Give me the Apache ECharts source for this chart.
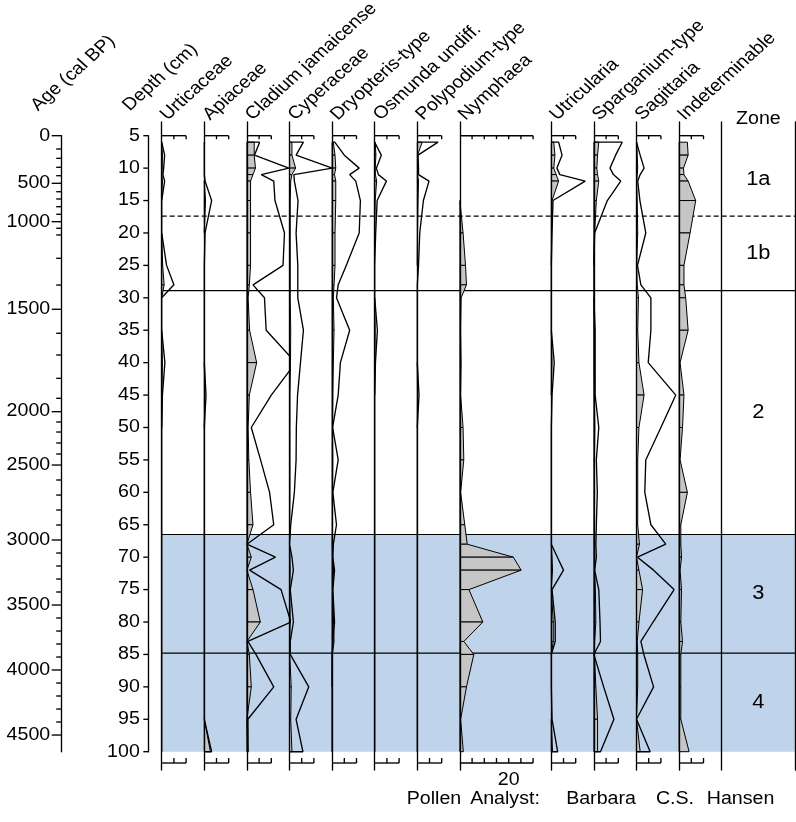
<!DOCTYPE html>
<html><head><meta charset="utf-8">
<script src="https://cdn.jsdelivr.net/npm/echarts@6/dist/echarts.min.js"></script>
<style>html,body{margin:0;padding:0;background:#fff}#c{width:796px;height:822px}</style>
</head><body><div id="c"></div>
<script>
// ---------- DATA ----------
const depths = [6,8,10,11,12,15,20,25,28,30,35,40,45,50,55,60,65,68,70,72,75,80,83,85,90,95,100];
const taxa = ['Urticaceae','Apiaceae','Cladium jamaicense','Cyperaceae','Dryopteris-type','Osmunda undiff.','Polypodium-type','Nymphaea','Utricularia','Sparganium-type','Sagittaria','Indeterminable'];
const scaleMax = [10,10,10,10,10,10,10,30,10,10,10,10];

const urticaceae  = [0,0.3,0.2,0.1,0.3,0,0,0.4,1.0,0,0,0.3,0.1,0,0,0,0,0,0,0,0,0,0,0,0,0,0];
const urticaceaeX = [0,1.2,0.8,0.5,1.2,0,0,2.0,5.0,0,0,1.3,0.3,0,0,0,0,0,0,0,0,0,0,0,0,0,0];
const apiaceae    = [0,0,0,0,0,0.5,0,0,0,0,0,0,0.2,0,0,0,0,0,0,0,0,0,0,0,0,0,2.5];
const apiaceaeX   = [0,0,0,0,0.3,3.0,0.3,0,0,0,0,0,0.7,0,0,0,0,0,0,0,0,0,0,0,0,0,3.0];
const cladium     = [3.0,3.0,3.5,2.5,1.5,1.5,1.5,1.5,1.0,0.5,1.1,4.0,1.0,0.5,0.8,1.5,2.5,0,1.8,0,2.5,5.5,0,1.0,1.8,0,0.3];
const cladiumX    = [5.2,3.1,17.2,5.9,11,11.5,15.4,14.8,2.5,7.2,7.9,20,10,1.8,5.6,9.3,11,0,11.7,1.1,14,18,0.4,3.7,11,0.4,0.5];
const cyperaceae  = [1.0,1.0,2.5,1.0,0.5,0.3,0.3,0.3,0.3,0.3,0.5,0.4,0.2,0.2,0.2,0.2,0.1,0,0.2,0.3,0.1,0.3,0.1,0.1,0.7,0.5,1.0];
const cyperaceaeX = [5.7,2.7,17.5,1.8,2.0,3.5,2.7,3.4,3.4,3.4,5.7,4.5,3.3,2.8,2.7,2.0,0.5,0,1.0,1.6,0.3,1.6,0.3,0.3,7.9,2.7,5.5];
const dryopteris  = [0.5,1.2,1.5,1.0,1.5,1.5,1.2,1.2,0.8,0.5,0.8,0.5,0.3,0.2,0.3,0.2,0.2,0.1,0.2,0.6,0.2,0.6,0.8,0.1,0,0,0];
const dryopterisX = [1.1,5.0,11.1,7.2,9.7,11.6,11.1,5.8,2.5,1.8,7.2,3.4,2.5,0.2,2.5,0.3,1.8,0.5,0.3,1.0,0.3,1.0,0.3,0,0,0,0];
const osmunda     = [0.2,0.5,0.2,0.3,0.8,0.2,0,0,0,0,0.2,0.1,0,0,0,0,0,0,0,0,0,0,0,0,0,0,0];
const osmundaX    = [0.5,2.7,0.7,1.5,4.8,1.0,0.4,0,0,0,1.1,0.3,0,0,0,0,0,0,0,0,0,0,0,0,0,0,0];
const polypodium  = [2.0,0.1,0.1,0.1,0.5,0.3,0.1,0,0,0,0,0,0.1,0,0,0,0,0,0,0,0,0,0,0,0,0,0];
const polypodiumX = [8.5,0.3,0.5,0.5,4.8,2.5,1.0,0.5,0,0,0,0,0.7,0,0,0,0,0,0,0,0,0,0,0,0,0,0];
const nymphaea    = [0,0,0,0,0,0,1.3,2.3,2.7,0.5,0.3,0.5,0.3,1.3,1.6,0.3,2.0,3.0,21.9,25.1,3.7,9.4,1.6,5.7,2.7,0.3,1.4];
const utricularia = [1.0,1.5,1.0,2.0,3.0,0.3,0.1,0,0,0,0,0.3,0,0,0,0,0,0,0.3,0.5,0,0.8,0.8,0,0,0,0.5];
const utriculariaX= [3.0,4.4,2.3,3.5,13.9,0.7,0.3,0,0,0,0,1.2,0.3,0,0,0,0,0,2.5,5.0,0.3,1.6,1.6,0,0,0.3,2.6];
const sparganium  = [2.0,1.5,1.2,1.5,2.0,1.0,0.3,0,0,0,0.1,0.1,0.2,0.4,0.2,0.3,0.2,0.2,0.3,0.3,0.6,0.8,0.3,0.2,0.8,1.5,1.5];
const sparganiumX = [11.6,8.9,6.6,8,11,5.5,0.3,0,0,0,0.5,0.5,0.5,2.0,1.0,1.4,1.0,0.8,1.0,0.3,2.0,2.5,2.7,0,4.0,8.2,2.7];
const sagittaria  = [0.1,0.3,0.5,0.3,0.1,0.3,0.5,0.1,0.3,0.8,0.5,1.0,3.1,1.0,0.5,0.5,0.5,1.2,0,1.0,2.5,1.0,0.3,0.5,0.5,0,1.5];
const sagittariaX = [0.4,1.5,3.1,1.5,0.5,1.4,3.8,0.4,1.8,5.9,5.9,4.8,16.1,10,3.8,3.4,5.9,12,0.4,7.0,15.4,6.8,1.8,3.0,7.0,0,5.6];
const indeterminable = [3.4,3.7,1.8,2.0,3.7,6.8,4.5,2.0,2.0,2.7,3.7,0.4,2.0,1.4,0.4,3.4,0.7,0.7,1.0,0.4,1.0,0.7,1.4,0.7,0.7,0.7,4.1];

const fillValues = [urticaceae,apiaceae,cladium,cyperaceae,dryopteris,osmunda,polypodium,nymphaea,utricularia,sparganium,sagittaria,indeterminable];
const exagValues = [urticaceaeX,apiaceaeX,cladiumX,cyperaceaeX,dryopterisX,osmundaX,polypodiumX,null,utriculariaX,sparganiumX,sagittariaX,null];
const nymphaeaScaleLabels = [20];

const depthTicks = [5,10,15,20,25,30,35,40,45,50,55,60,65,70,75,80,85,90,95,100];
const ageTicks = [0,100,200,300,400,500,600,700,800,900,1000,1100,1200,1300,1400,1500,1600,1700,1800,1900,2000,2100,2200,2300,2400,2500,2600,2700,2800,2900,3000,3100,3200,3300,3400,3500,3600,3700,3800,3900,4000,4100,4200,4300,4400,4500];
const ageTickDepths = [5.00,7.05,8.49,9.87,11.17,12.34,13.64,14.76,15.95,17.12,18.26,19.28,20.31,23.91,28.03,31.77,35.47,38.82,42.42,45.50,47.56,49.15,50.70,52.39,54.09,55.79,58.10,60.42,62.73,65.04,67.35,69.36,71.36,73.37,75.37,77.38,79.38,81.39,83.39,85.40,87.40,89.41,91.41,93.42,95.42,97.43];

const zoneNames = ['1a','1b','2','3','4'];
const zoneBounds = [6,17.4,28.9,66.5,84.8,100];
const zoneLineDepths = [17.4,28.9,66.5,84.8];
const zoneLineDashed = [true,false,false,false];
const shadedZoneRange = [66.5,100];
const authorWords = ['Pollen','Analyst:','Barbara','C.S.','Hansen'];

// ---------- LAYOUT ----------
const FONT = "'Liberation Sans', Arial, Helvetica, sans-serif";
const FS = 17.5, KX = 1.12;
const font = FS + 'px ' + FONT;
const zoneFont = '19.5px ' + FONT;
const PX_PCT = 2.44, GAP = 18.2, X0 = 161.7;
const D_TOP = 135.7, D_BOT = 751.7;   // pixel rows of depth 5 and 100
const AX_TOP = 122, AX_BOT = 770;
const RIGHT = 795;
const LW = 1.35;
const cmPerPx = 95 / (D_BOT - D_TOP);
const extMin = 5 - (D_TOP - AX_TOP) * cmPerPx;
const extMax = 100 + (AX_BOT - D_BOT) * cmPerPx;
const BLUE = '#bfd4ea', GRAY = '#c6c6c6';

const colX = [], colW = [];
let cx = X0;
scaleMax.forEach(m => { colX.push(cx); const w = m * PX_PCT + GAP; colW.push(w); cx += w; });
const zoneX = cx;

const grids = [], xAxes = [], yAxes = [], series = [], graphics = [];
function addGrid(left, top, width, height, ymin, ymax, showLine) {
  const gi = grids.length;
  grids.push({left: left, top: top, width: width, height: height});
  xAxes.push({gridIndex: gi, type: 'value', min: 0, max: width / PX_PCT, show: false});
  yAxes.push({gridIndex: gi, type: 'value', inverse: true, min: ymin, max: ymax, z: 4,
    axisLine: {show: !!showLine, onZero: false, lineStyle: {color: '#000', width: LW}},
    axisTick: {show: false}, axisLabel: {show: false}, splitLine: {show: false}});
  return {x: xAxes.length - 1, y: yAxes.length - 1};
}

// background band & zone lines
const band = addGrid(X0, AX_TOP, RIGHT - X0, AX_BOT - AX_TOP, extMin, extMax, false);
series.push({type: 'custom', xAxisIndex: band.x, yAxisIndex: band.y, z: 1, silent: true,
  data: [[0, shadedZoneRange[0], 0, shadedZoneRange[1]]],
  renderItem: (p, api) => {
    const a = api.coord([0, api.value(1)]);
    const b = api.coord([xAxes[band.x].max, api.value(3)]);
    return {type: 'rect', shape: {x: a[0], y: a[1], width: b[0] - a[0], height: b[1] - a[1]}, style: {fill: BLUE}};
  }});
series.push({type: 'custom', xAxisIndex: band.x, yAxisIndex: band.y, z: 2, silent: true,
  data: zoneLineDepths.map((d, i) => [0, d, zoneLineDashed[i] ? 1 : 0]),
  renderItem: (p, api) => {
    const a = api.coord([0, api.value(1)]);
    const b = api.coord([xAxes[band.x].max, api.value(1)]);
    return {type: 'line', shape: {x1: a[0], y1: a[1], x2: b[0], y2: b[1]},
      style: {stroke: '#000', lineWidth: 1.1, lineDash: api.value(2) ? [5, 3] : null}};
  }});

// taxon columns
taxa.forEach((name, i) => {
  const ax = addGrid(colX[i], AX_TOP, colW[i], AX_BOT - AX_TOP, extMin, extMax, true);
  const vals = fillValues[i];
  const segs = [];
  for (let k = 0; k < depths.length - 1; k++) segs.push([vals[k], depths[k], vals[k + 1], depths[k + 1]]);
  series.push({type: 'custom', xAxisIndex: ax.x, yAxisIndex: ax.y, z: 3, silent: true, clip: false,
    data: segs,
    renderItem: (p, api) => {
      const v0 = api.value(0), d0 = api.value(1), v1 = api.value(2), d1 = api.value(3);
      if (v0 === 0 && v1 === 0) return null;
      const pts = [api.coord([0, d0]), api.coord([v0, d0]), api.coord([v1, d1]), api.coord([0, d1])];
      return {type: 'polygon', shape: {points: pts}, style: {fill: GRAY, stroke: '#000', lineWidth: 1}};
    }});
  const ex = exagValues[i];
  if (ex) {
    const pts = [[0, depths[0]]];
    depths.forEach((d, k) => pts.push([ex[k], d]));
    pts.push([0, depths[depths.length - 1]]);
    series.push({type: 'line', xAxisIndex: ax.x, yAxisIndex: ax.y, z: 5, silent: true, clip: true,
      data: pts, symbol: 'none', showSymbol: false, lineStyle: {color: '#000', width: LW}});
  }
  // scale bars (top & bottom)
  const sm = scaleMax[i];
  const labels = (name === 'Nymphaea') ? nymphaeaScaleLabels : [];
  series.push({type: 'custom', xAxisIndex: ax.x, yAxisIndex: ax.y, z: 5, silent: true, clip: false,
    data: [[0, 5]],
    renderItem: (p, api) => {
      const t0 = api.coord([0, 5]), t1 = api.coord([sm, 5]);
      const by = api.coord([0, 100])[1] + 11.3;
      const st = {stroke: '#000', lineWidth: LW};
      const ch = [
        {type: 'line', shape: {x1: t0[0], y1: t0[1], x2: t1[0], y2: t0[1]}, style: st},
        {type: 'line', shape: {x1: t0[0], y1: by, x2: t1[0], y2: by}, style: st}
      ];
      for (let v = 5; v <= sm; v += 5) {
        const x = api.coord([v, 5])[0];
        ch.push({type: 'line', shape: {x1: x, y1: t0[1], x2: x, y2: t0[1] + 3.5}, style: st});
        ch.push({type: 'line', shape: {x1: x, y1: by, x2: x, y2: by - 5}, style: st});
      }
      labels.forEach(v => {
        const x = api.coord([v, 5])[0];
        ch.push({type: 'text', x: x, y: by + 17, scaleX: KX,
          style: {text: String(v), font: font, fill: '#000', align: 'center', verticalAlign: 'middle'}});
      });
      return {type: 'group', children: ch};
    }});
  graphics.push({type: 'group', x: colX[i] + 1.9, y: 117.3, scaleX: KX,
    children: [{type: 'text', rotation: Math.PI / 4,
      style: {text: name, font: font, fill: '#000', align: 'left', verticalAlign: 'middle'}}]});
});

// zone column
const zc = addGrid(zoneX, AX_TOP, RIGHT - zoneX, AX_BOT - AX_TOP, extMin, extMax, true);
yAxes.push({gridIndex: grids.length - 1, type: 'value', inverse: true, min: extMin, max: extMax, position: 'right', z: 4,
  axisLine: {show: true, onZero: false, lineStyle: {color: '#000', width: LW}},
  axisTick: {show: false}, axisLabel: {show: false}, splitLine: {show: false}});
series.push({type: 'custom', xAxisIndex: zc.x, yAxisIndex: zc.y, z: 5, silent: true, clip: false,
  data: zoneNames.map((n, i) => [xAxes[zc.x].max / 2, (zoneBounds[i] + zoneBounds[i + 1]) / 2, i]),
  renderItem: (p, api) => {
    const c = api.coord([api.value(0), api.value(1)]);
    return {type: 'text', x: c[0], y: c[1], scaleX: KX,
      style: {text: zoneNames[api.value(2)], font: zoneFont, fill: '#000', align: 'center', verticalAlign: 'middle'}};
  }});
graphics.push({type: 'text', x: zoneX + (RIGHT - zoneX) / 2, y: 119.5, scaleX: KX,
  style: {text: 'Zone', font: font, fill: '#000', align: 'center', verticalAlign: 'middle'}});

// depth axis
const dg = addGrid(148.3, D_TOP, 1, D_BOT - D_TOP, 5, 100, true);
series.push({type: 'custom', xAxisIndex: dg.x, yAxisIndex: dg.y, z: 5, silent: true, clip: false,
  data: depthTicks.map(d => [0, d]),
  renderItem: (p, api) => {
    const c = api.coord([0, api.value(1)]);
    return {type: 'group', children: [
      {type: 'line', shape: {x1: c[0] - 5, y1: c[1], x2: c[0], y2: c[1]}, style: {stroke: '#000', lineWidth: LW}},
      {type: 'text', x: c[0] - 8.5, y: c[1], scaleX: KX,
        style: {text: String(api.value(1)), font: font, fill: '#000', align: 'right', verticalAlign: 'middle'}}
    ]};
  }});
graphics.push({type: 'group', x: 125.9, y: 108, scaleX: KX,
  children: [{type: 'text', rotation: Math.PI / 4,
    style: {text: 'Depth (cm)', font: font, fill: '#000', align: 'left', verticalAlign: 'middle'}}]});

// age axis
const ag = addGrid(61.7, D_TOP, 1, D_BOT - D_TOP, 5, 100, true);
series.push({type: 'custom', xAxisIndex: ag.x, yAxisIndex: ag.y, z: 5, silent: true, clip: false,
  data: ageTicks.map((a, i) => [0, ageTickDepths[i], a]),
  renderItem: (p, api) => {
    const c = api.coord([0, api.value(1)]);
    const age = api.value(2);
    const major = age % 500 === 0;
    const ch = [{type: 'line', shape: {x1: c[0] - (major ? 10 : 5.5), y1: c[1], x2: c[0], y2: c[1]}, style: {stroke: '#000', lineWidth: LW}}];
    if (major) ch.push({type: 'text', x: c[0] - 11.5, y: c[1], scaleX: KX,
      style: {text: String(age), font: font, fill: '#000', align: 'right', verticalAlign: 'middle'}});
    return {type: 'group', children: ch};
  }});
graphics.push({type: 'group', x: 34.2, y: 108, scaleX: KX,
  children: [{type: 'text', rotation: Math.PI / 4,
    style: {text: 'Age (cal BP)', font: font, fill: '#000', align: 'left', verticalAlign: 'middle'}}]});

// analyst credit
const creditCenters = [434, 505, 601, 675, 740.5];
authorWords.forEach((w, i) => graphics.push({type: 'text', x: creditCenters[i], y: 799, scaleX: KX,
  style: {text: w, font: font, fill: '#000', align: 'center', verticalAlign: 'middle'}}));

const chart = echarts.init(document.getElementById('c'), null, {renderer: 'canvas'});
chart.setOption({animation: false, backgroundColor: '#fff', grid: grids, xAxis: xAxes, yAxis: yAxes, series: series, graphic: graphics});
</script></body></html>
